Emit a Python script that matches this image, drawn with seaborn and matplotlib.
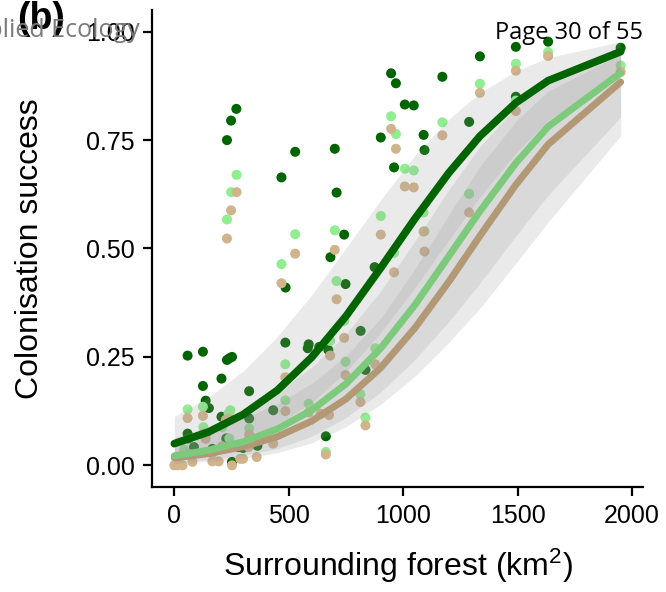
import pandas as pd
import numpy as np
import matplotlib
matplotlib.use("Agg")
import matplotlib.pyplot as plt
import seaborn as sns

# Observed sites: surrounding forest (km2) and colonisation success, one list per group
dark_x = [58, 125, 230, 252, 241, 125, 206, 327, 137, 151, 206, 327, 432,
          58, 62, 86, 137, 166, 227, 280, 300, 363, 252,
          485, 587, 583, 633, 673, 662, 814, 835, 875,
          486, 748, 682, 742, 709, 468, 528, 701,
          230, 248, 271,
          902, 960, 947, 968, 1007, 1046, 1089, 1093, 1171,
          1288, 1335, 1492, 1633, 1950, 1492]
dark_y = [0.253, 0.262, 0.243, 0.250, 0.247, 0.183, 0.200, 0.171, 0.149, 0.132, 0.112, 0.108, 0.127,
          0.073, 0.062, 0.042, 0.073, 0.038, 0.062, 0.042, 0.040, 0.045, 0.008,
          0.283, 0.279, 0.270, 0.273, 0.266, 0.067, 0.310, 0.220, 0.457,
          0.410, 0.418, 0.480, 0.532, 0.629, 0.664, 0.723, 0.730,
          0.750, 0.795, 0.822,
          0.756, 0.687, 0.904, 0.881, 0.832, 0.830, 0.762, 0.727, 0.896,
          0.792, 0.943, 0.965, 0.977, 0.963, 0.850]

light_x = [58, 125, 245, 237, 127, 209, 240, 43, 327, 166, 15,
           485, 485, 587, 681, 748, 742, 813, 835, 878, 662,
           272, 248, 230, 528, 701, 468, 709, 902, 960, 947, 968, 1007, 1046, 1089, 1093, 1171,
           1288, 1335, 1492, 1633, 1950, 1492]
light_y = [0.129, 0.135, 0.127, 0.120, 0.088, 0.088, 0.062, 0.036, 0.085, 0.030, 0.010,
           0.233, 0.150, 0.142, 0.287, 0.239, 0.333, 0.164, 0.110, 0.270, 0.031,
           0.670, 0.630, 0.567, 0.533, 0.542, 0.464, 0.425, 0.575, 0.490, 0.805, 0.764, 0.684, 0.680, 0.583, 0.540, 0.791,
           0.626, 0.880, 0.926, 0.953, 0.922, 0.841]

tan_x = [58, 125, 237, 225, 127, 137, 166, 209, 58, 327, 324, 360, 432,
         0, 15, 36, 79, 166, 194, 252, 288, 300,
         485, 485, 587, 640, 676, 681, 748, 742, 813, 835, 878, 662,
         272, 248, 230, 528, 701, 468, 709, 902, 960, 947, 968, 1007, 1046, 1089, 1093, 1171,
         1288, 1335, 1492, 1633, 1950, 1492]
tan_y = [0.109, 0.114, 0.108, 0.105, 0.073, 0.061, 0.027, 0.044, 0.027, 0.071, 0.042, 0.019, 0.050,
         0.000, 0.000, 0.000, 0.008, 0.009, 0.009, 0.000, 0.015, 0.015,
         0.203, 0.125, 0.122, 0.119, 0.116, 0.253, 0.208, 0.294, 0.146, 0.092, 0.233, 0.025,
         0.630, 0.588, 0.523, 0.488, 0.497, 0.420, 0.383, 0.532, 0.445, 0.776, 0.730, 0.643, 0.641, 0.539, 0.493, 0.761,
         0.583, 0.859, 0.910, 0.944, 0.907, 0.817]

# Fitted curves with confidence ribbons, read at these forest values
fit_x = [0, 150, 300, 450, 600, 750, 900, 1050, 1200, 1335, 1492, 1633, 1950]

dark_fit = [0.050, 0.077, 0.117, 0.173, 0.249, 0.344, 0.454, 0.568, 0.675, 0.759, 0.836, 0.887, 0.954]
dark_lo = [0.021, 0.036, 0.059, 0.094, 0.145, 0.215, 0.305, 0.409, 0.520, 0.619, 0.720, 0.795, 0.909]
dark_hi = [0.113, 0.157, 0.217, 0.297, 0.393, 0.501, 0.611, 0.714, 0.799, 0.859, 0.909, 0.940, 0.977]

light_fit = [0.022, 0.035, 0.054, 0.084, 0.127, 0.188, 0.269, 0.369, 0.483, 0.586, 0.697, 0.781, 0.905]
light_lo = [0.008, 0.013, 0.023, 0.039, 0.067, 0.110, 0.168, 0.243, 0.332, 0.420, 0.529, 0.623, 0.803]
light_hi = [0.064, 0.089, 0.123, 0.169, 0.226, 0.303, 0.401, 0.516, 0.636, 0.735, 0.826, 0.885, 0.957]

tan_fit = [0.017, 0.027, 0.043, 0.066, 0.102, 0.153, 0.224, 0.316, 0.424, 0.529, 0.647, 0.740, 0.884]
tan_lo = [0.005, 0.009, 0.016, 0.029, 0.052, 0.089, 0.140, 0.205, 0.284, 0.362, 0.466, 0.561, 0.760]
tan_hi = [0.060, 0.081, 0.108, 0.142, 0.189, 0.252, 0.338, 0.452, 0.578, 0.689, 0.793, 0.863, 0.948]

groups = ['dark', 'light', 'tan']
point_cols = {'dark': '#006400', 'light': '#90EE90', 'tan': '#D2B48C'}
line_cols = {'dark': '#006400', 'light': '#7DCA7D', 'tan': '#B39876'}

sns.set_style('ticks')
plt.rcParams['font.family'] = ['Liberation Sans', 'DejaVu Sans']
plt.rcParams['mathtext.fontset'] = 'custom'
plt.rcParams['mathtext.rm'] = 'Liberation Sans'
plt.rcParams['mathtext.it'] = 'Liberation Sans:italic'
plt.rcParams['text.color'] = 'black'
plt.rcParams['axes.labelcolor'] = 'black'

# Build tidy tables
pts = pd.concat([
    pd.DataFrame({'forest': dark_x, 'success': dark_y, 'group': 'dark'}),
    pd.DataFrame({'forest': light_x, 'success': light_y, 'group': 'light'}),
    pd.DataFrame({'forest': tan_x, 'success': tan_y, 'group': 'tan'}),
], ignore_index=True)

fits = pd.concat([
    pd.DataFrame({'forest': fit_x, 'fit': dark_fit, 'lo': dark_lo, 'hi': dark_hi, 'group': 'dark'}),
    pd.DataFrame({'forest': fit_x, 'fit': light_fit, 'lo': light_lo, 'hi': light_hi, 'group': 'light'}),
    pd.DataFrame({'forest': fit_x, 'fit': tan_fit, 'lo': tan_lo, 'hi': tan_hi, 'group': 'tan'}),
], ignore_index=True)

# Create figure
fig = plt.figure(figsize=(6.66, 5.92), dpi=100)
ax = fig.add_axes([152 / 666, 1 - 487 / 592, (643 - 152) / 666, (487 - 10) / 592])

# Points first, grey ribbons over them, fitted lines on top
sns.scatterplot(data=pts, x='forest', y='success', hue='group', hue_order=groups,
                palette=point_cols, s=52, linewidth=0, legend=False, ax=ax, zorder=2)

for g in groups:
    sub = fits[fits.group == g]
    ax.fill_between(sub['forest'], sub['lo'], sub['hi'], color='#999999', alpha=0.2,
                    linewidth=0, zorder=3)

for g, lw in zip(['tan', 'light', 'dark'], [5.0, 5.0, 5.5]):
    sns.lineplot(data=fits[fits.group == g], x='forest', y='fit', color=line_cols[g],
                 linewidth=lw, ax=ax, zorder=4, legend=False)

ax.set_xlim(-97.5, 2047.5)
ax.set_ylim(-0.05, 1.05)
ax.set_xticks([0, 500, 1000, 1500, 2000])
ax.set_yticks([0, 0.25, 0.5, 0.75, 1.0])
ax.set_yticklabels(['0.00', '0.25', '0.50', '0.75', '1.00'])

sns.despine(ax=ax)
for s in ['left', 'bottom']:
    ax.spines[s].set_linewidth(1.6)
    ax.spines[s].set_color('black')
ax.tick_params(axis='both', length=6.5, width=1.6, color='black', labelsize=18,
               labelcolor='black', pad=6)

ax.set_xlabel('Surrounding forest (km$^{2}$)', fontsize=23, color='black')
ax.set_ylabel('Colonisation success', fontsize=23, color='black')
ax.xaxis.set_label_coords(0.5, -0.125)
ax.yaxis.set_label_coords(-0.218, 0.5)

# Panel tag and page overlay text
fig.text(17 / 666, 1 - 29 / 592, '(b)', fontsize=27, fontweight='bold', color='black',
         ha='left', va='baseline')
fig.text(141 / 666, 1 - 37 / 592, 'Journal of Applied Ecology', fontsize=18, color='#7a7a7a',
         family=['Open Sans', 'DejaVu Sans'], ha='right', va='baseline')
fig.text(643 / 666, 1 - 39 / 592, 'Page 30 of 55', fontsize=17, color='black',
         family=['Open Sans', 'DejaVu Sans'], ha='right', va='baseline')

fig.savefig('out.png', dpi=100)
